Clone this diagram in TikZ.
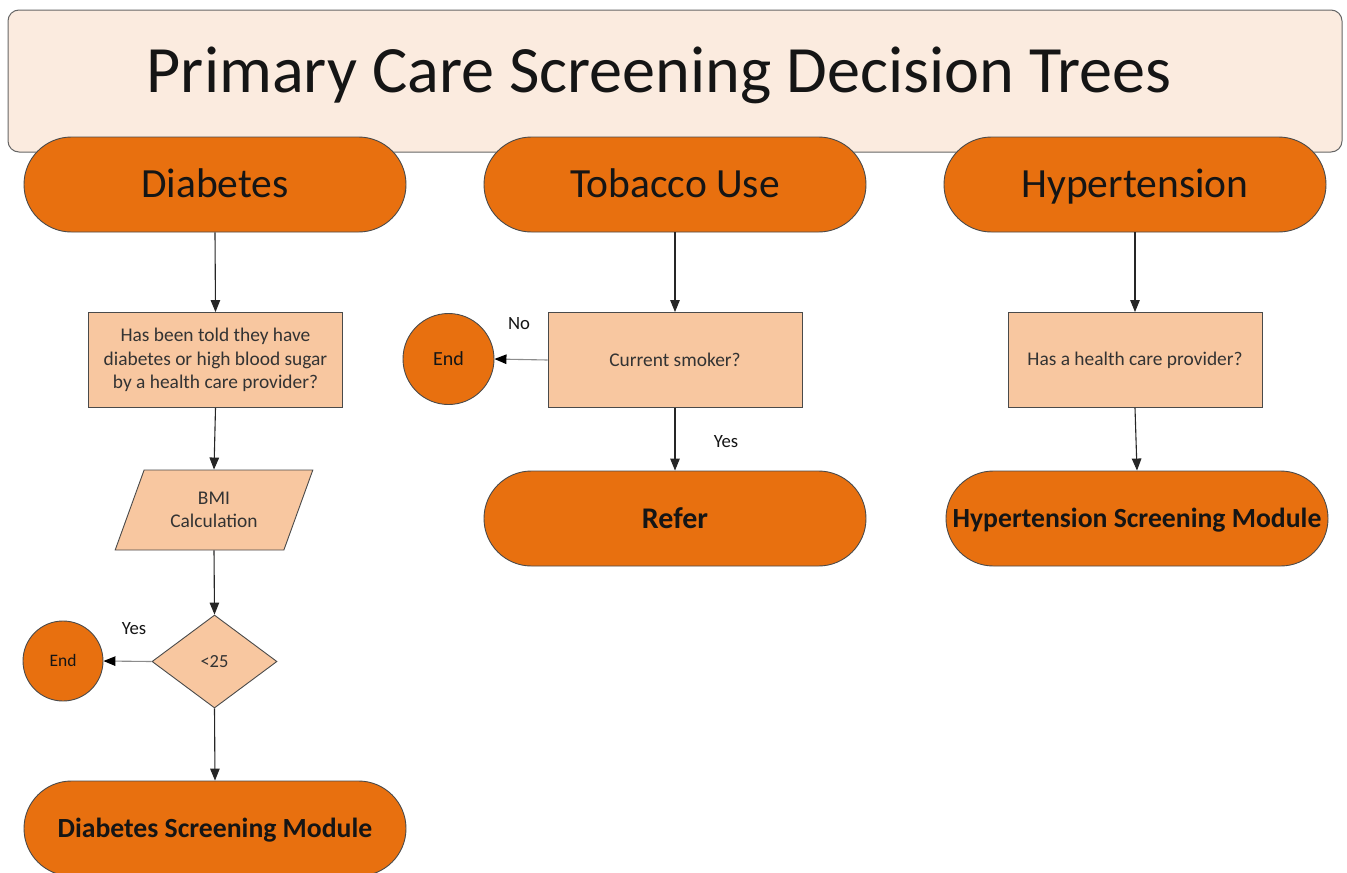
\documentclass[tikz,border=0pt]{standalone}
\usepackage{fontspec}
\setmainfont{Carlito}
\usetikzlibrary{shapes.misc,shapes.geometric,arrows.meta}
\definecolor{orangefill}{HTML}{E8700F}
\definecolor{peach}{HTML}{F8C7A0}
\definecolor{cream}{HTML}{FBEBDF}
\definecolor{edge}{HTML}{4A4A4A}
\definecolor{textdark}{HTML}{151515}
\definecolor{textsoft}{HTML}{333333}
\tikzset{
  % box heights chosen so the capital letters sit on the node centre
  capbox/.style 2 args={text height=#1, text depth=#2},
  term/.style={rounded rectangle, draw=edge, line width=0.9pt, fill=orangefill,
    minimum width=382, minimum height=95, inner sep=0pt, text=textdark,
    font=\fontsize{41.5}{48}\selectfont, capbox={34.7pt}{8pt}},
  module/.style={term, font=\bfseries\fontsize{27.7}{32}\selectfont, capbox={23.8pt}{6pt}},
  endcircle/.style={circle, draw=edge, line width=0.9pt, fill=orangefill,
    inner sep=0pt, text=textdark},
  question/.style={rectangle, draw=edge, line width=0.9pt, fill=peach,
    minimum width=254, minimum height=95, inner sep=0pt, align=center,
    text=textsoft, font=\fontsize{19.4}{23.5}\selectfont},
  calcbox/.style={trapezium, trapezium left angle=63.4, trapezium right angle=116.6,
    trapezium stretches=true, draw=edge, line width=0.9pt, fill=peach,
    minimum width=198, minimum height=80, inner sep=0pt, align=center,
    text=textsoft, font=\fontsize{19.4}{23.5}\selectfont},
  decision/.style={diamond, draw=edge, line width=0.9pt, fill=peach,
    minimum width=125, minimum height=93, inner sep=0pt,
    text=textsoft, font=\fontsize{18.5}{22}\selectfont},
  flow/.style={draw=black!85, line width=1.1pt, -{Triangle[length=12pt,width=9.5pt]}},
  sideflow/.style={draw=black!45, line width=1.1pt, -{Triangle[length=12pt,width=9.5pt,color=black,fill=black]}},
  branch/.style={text=textdark, font=\fontsize{18.7}{22}\selectfont},
}
\begin{document}
\begin{tikzpicture}[x=1pt,y=-1pt]
\useasboundingbox (0,0) rectangle (1347,873);
\clip (0,0) rectangle (1347,873);
\fill[white] (0,0) rectangle (1347,873);

% title banner
\draw[draw=black!60, line width=1pt, fill=cream, rounded corners=11pt]
  (8,10) rectangle (1342,152);
\node[text=textdark, font=\fontsize{66.2}{74}\selectfont, capbox={55.8pt}{14pt}] (title) at (659,72)
  {Primary Care Screening Decision Trees};

% column headers
\node[term] (diab) at (215,184.5) {Diabetes};
\node[term] (tob) at (675,184.5) {Tobacco Use};
\node[term] (hyp) at (1135,184.5) {Hypertension};

% diabetes branch
\node[question] (dq) at (215.5,360) {Has been told they have\\diabetes or high blood sugar\\by a health care provider?};
\node[calcbox] (bmi) at (214,510) {BMI\\Calculation};
\node[decision] (lt) at (214.5,661.5) {<25};
\node[endcircle, minimum size=80, font=\fontsize{17.5}{20}\selectfont, capbox={15.3pt}{4pt}] (dend) at (63,661) {End};
\node[module] (dmod) at (215,828.5) {Diabetes Screening Module};
\node[branch] (dyes) at (134,629) {Yes};

\draw[flow] (diab.south) -- (dq.north);
\draw[flow] (dq.south) -- (bmi.north);
\draw[flow] (bmi.south) -- (lt.north);
\draw[flow] (lt.south) -- (dmod.north);
\draw[sideflow] (lt.west) -- (dend.east);

% tobacco branch
\node[question] (tq) at (675,360) {Current smoker?};
\node[endcircle, minimum size=91, font=\fontsize{20}{24}\selectfont, capbox={16.9pt}{4pt}] (tend) at (448.5,359) {End};
\node[term, font=\bfseries\fontsize{30}{34}\selectfont, capbox={25.3pt}{6pt}] (refer) at (675,518.5) {Refer};
\node[branch] (tno) at (519,324) {No};
\node[branch] (tyes) at (726,442) {Yes};

\draw[flow] (tob.south) -- (tq.north);
\draw[sideflow] (tq.west) -- (tend.east);
\draw[flow] (tq.south) -- (refer.north);

% hypertension branch
\node[question] (hq) at (1135,360) {Has a health care provider?};
\node[module] (hmod) at (1137,518.5) {Hypertension Screening Module};

\draw[flow] (hyp.south) -- (hq.north);
\draw[flow] (hq.south) -- (hmod.north);
\end{tikzpicture}
\end{document}
